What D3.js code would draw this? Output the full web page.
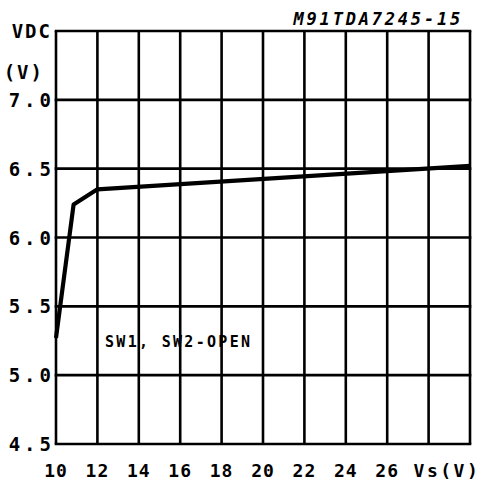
<!DOCTYPE html>
<html>
<head>
<meta charset="utf-8">
<script src="https://cdn.jsdelivr.net/npm/d3@7"></script>
<style>
  body { margin: 0; background: #fff; }
  text { font-family: "DejaVu Sans Mono", monospace; font-weight: bold; fill: #000; }
</style>
</head>
<body>
<div id="chart"></div>
<script>
var width = 481,
    height = 480;

// curve
var vs = [10, 10.85, 12, 30];
var vdc = [5.27, 6.24, 6.35, 6.52];

var xTicks = [10, 12, 14, 16, 18, 20, 22, 24, 26];
var yTicks = [4.5, 5.0, 5.5, 6.0, 6.5, 7.0];
var xGrid = [10, 12, 14, 16, 18, 20, 22, 24, 26, 28, 30];
var yGrid = [4.5, 5.0, 5.5, 6.0, 6.5, 7.0, 7.5];

var x = d3.scaleLinear().domain([10, 30]).range([56, 470]);
var y = d3.scaleLinear().domain([4.5, 7.5]).range([444, 31]);

var svg = d3.select("#chart").append("svg")
    .attr("width", width)
    .attr("height", height);

// grid
svg.append("g").selectAll("line")
    .data(xGrid)
  .enter().append("line")
    .attr("x1", function(d) { return x(d); })
    .attr("x2", function(d) { return x(d); })
    .attr("y1", y(4.5))
    .attr("y2", y(7.5))
    .attr("stroke", "#000")
    .attr("stroke-width", 2.6);

svg.append("g").selectAll("line")
    .data(yGrid)
  .enter().append("line")
    .attr("x1", x(10) - 1.3)
    .attr("x2", x(30) + 1.3)
    .attr("y1", function(d) { return y(d); })
    .attr("y2", function(d) { return y(d); })
    .attr("stroke", "#000")
    .attr("stroke-width", 2.6);

// curve
var line = d3.line()
    .x(function(d, i) { return x(vs[i]); })
    .y(function(d) { return y(d); });

svg.append("path")
    .datum(vdc)
    .attr("d", line)
    .attr("fill", "none")
    .attr("stroke", "#000")
    .attr("stroke-width", 4.2)
    .attr("stroke-linejoin", "round");

// tick labels
svg.append("g").selectAll("text")
    .data(xTicks)
  .enter().append("text")
    .attr("x", function(d) { return x(d); })
    .attr("y", 477)
    .attr("text-anchor", "middle")
    .style("font-size", "18px")
    .style("letter-spacing", "1px")
    .text(function(d) { return d; });

svg.append("text")
    .attr("x", x(28) - 15)
    .attr("y", 477)
    .style("font-size", "18px")
    .style("letter-spacing", "2.5px")
    .text("Vs(V)");

svg.append("g").selectAll("text")
    .data(yTicks)
  .enter().append("text")
    .attr("x", 55)
    .attr("y", function(d) { return y(d) + 7; })
    .attr("text-anchor", "end")
    .style("font-size", "19px")
    .style("letter-spacing", "4px")
    .text(function(d) { return d.toFixed(1); });

svg.append("text")
    .attr("x", 52)
    .attr("y", y(7.5) + 7)
    .attr("text-anchor", "end")
    .style("font-size", "19px")
    .style("letter-spacing", "2px")
    .text("VDC");

svg.append("text")
    .attr("x", 44)
    .attr("y", y(7.2) + 7)
    .attr("text-anchor", "end")
    .style("font-size", "19px")
    .style("letter-spacing", "2px")
    .text("(V)");

svg.append("text")
    .attr("x", 463)
    .attr("y", 25)
    .attr("text-anchor", "end")
    .style("font-size", "17px")
    .style("font-style", "italic")
    .style("letter-spacing", "2.8px")
    .text("M91TDA7245-15");

svg.append("text")
    .attr("x", 105)
    .attr("y", 347)
    .style("font-size", "15px")
    .style("letter-spacing", "2.3px")
    .text("SW1, SW2-OPEN");
</script>
</body>
</html>
